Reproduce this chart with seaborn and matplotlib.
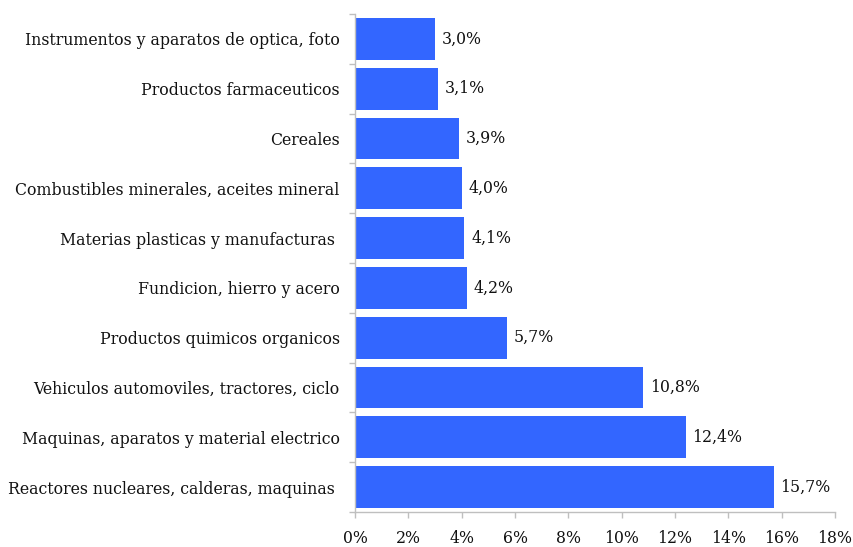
import matplotlib
matplotlib.use("Agg")
import matplotlib.pyplot as plt
import seaborn as sns
import numpy as np
from matplotlib.ticker import FixedLocator, PercentFormatter

categories = [
    "Instrumentos y aparatos de optica, foto",
    "Productos farmaceuticos",
    "Cereales",
    "Combustibles minerales, aceites mineral",
    "Materias plasticas y manufacturas ",
    "Fundicion, hierro y acero",
    "Productos quimicos organicos",
    "Vehiculos automoviles, tractores, ciclo",
    "Maquinas, aparatos y material electrico",
    "Reactores nucleares, calderas, maquinas ",
]
values = [3.0, 3.1, 3.9, 4.0, 4.1, 4.2, 5.7, 10.8, 12.4, 15.7]

sns.set_style("white")
plt.rcParams["font.family"] = ["DejaVu Serif"]

fig = plt.figure(figsize=(8.54, 5.47), dpi=100)
ax = fig.add_axes([0.4157, 0.064, 0.9778 - 0.4157, 0.9744 - 0.064])

sns.barplot(x=values, y=categories, orient="h", color="#3366FF",
            saturation=1, width=0.84, linewidth=0, ax=ax)

for i, v in enumerate(values):
    ax.text(v + 0.25, i, f"{v:.1f}%".replace(".", ","), va="center",
            ha="left", fontsize=11.3, color="#111111")

ax.set_xlim(0, 18)
ax.set_ylim(len(categories) - 0.5, -0.5)
ax.set_xticks(np.arange(0, 19, 2))
ax.xaxis.set_major_formatter(PercentFormatter(decimals=0))
ax.set_xlabel("")
ax.set_ylabel("")

ax.yaxis.set_minor_locator(FixedLocator(np.arange(-0.5, len(categories), 1)))
ax.tick_params(axis="y", which="major", left=False, length=0, pad=11,
               labelsize=11.3, labelcolor="#111111")
ax.tick_params(axis="y", which="minor", left=True, length=4, color="#BFBFBF",
               width=1)
ax.tick_params(axis="x", which="major", bottom=True, length=4,
               color="#BFBFBF", width=1, pad=9, labelsize=11.3,
               labelcolor="#111111")

for s in ["top", "right"]:
    ax.spines[s].set_visible(False)
for s in ["left", "bottom"]:
    ax.spines[s].set_color("#BFBFBF")
    ax.spines[s].set_linewidth(1)

fig.savefig("out.png", dpi=100)
